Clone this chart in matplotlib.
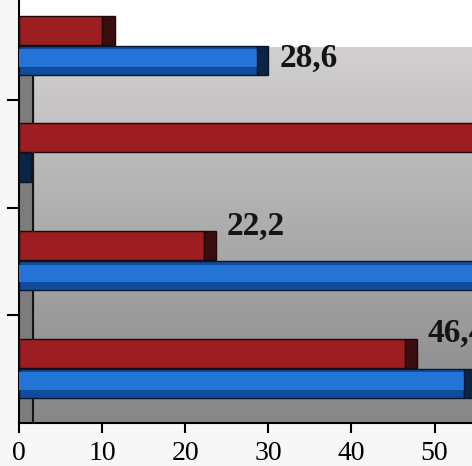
import matplotlib.pyplot as plt
import numpy as np
from matplotlib.colors import LinearSegmentedColormap

# groups from bottom to top
groups = [0, 1, 2, 3]
red_vals = [46.4, 22.2, 60.0, 10.0]
blue_vals = [53.5, 60.0, 0.0, 28.6]
label_text = ["46,4", "22,2", "28,6"]
label_val = [46.4, 22.2, 28.6]
label_grp = [0, 1, 3]
label_series = ["red", "red", "blue"]
xticks = [0, 10, 20, 30, 40, 50]

red = "#9c1e20"
red_cap = "#3a0e10"
blue_dark = "#0f4c9e"
blue_light = "#2474d8"
blue_cap = "#0b2446"

fig = plt.figure(figsize=(4.72, 4.66), dpi=100)
ax = fig.add_axes([19/472, 43/466, 453/472, 423/466])
ax.set_xlim(0, 54.5)
ax.set_ylim(-0.5, 3.43)

# back wall with vertical gradient
grad = np.linspace(0, 1, 256).reshape(-1, 1)
wall = LinearSegmentedColormap.from_list("wall", ["#878787", "#ababab", "#d3d0d0"])
ax.imshow(grad, extent=(0, 60, -0.5, 2.99), origin="lower", cmap=wall, aspect="auto", zorder=0)
ax.add_patch(plt.Rectangle((0, -0.5), 1.7, 3.49, color="#7c7c7c", zorder=1))
ax.plot([1.7, 1.7], [-0.5, 2.99], color="#151515", lw=1.5, zorder=1)

h = 0.27
y = np.array(groups)
yr = y + 0.15
yb = y - 0.13

ax.barh(yr, red_vals, height=h, color=red, edgecolor="#1c0808", lw=1, zorder=3)
ax.barh(yr, 1.5, left=red_vals, height=h, color=red_cap, edgecolor="#1c0808", lw=1, zorder=3)

ax.barh(yb, blue_vals, height=h, color=blue_dark, edgecolor="#08152a", lw=1, zorder=3)
ax.barh(yb + 0.02, blue_vals, height=h * 0.6, color=blue_light, lw=0, zorder=4)
ax.barh(yb, 1.4, left=blue_vals, height=h, color=blue_cap, edgecolor="#08152a", lw=1, zorder=4)

for t, v, g, s in zip(label_text, label_val, label_grp, label_series):
    ly = g + 0.33 if s == "red" else g - 0.11
    ax.text(v + 2.8, ly, t, fontsize=24, fontweight="bold", family="Liberation Serif",
            color="#151515", va="center", ha="left", zorder=5)

ax.set_xticks(xticks)
ax.set_xticklabels([str(v) for v in xticks], fontsize=20, family="Liberation Serif")
ax.set_yticks([0.5, 1.5, 2.5])
ax.set_yticklabels([])
ax.tick_params(axis="x", length=7, width=1.5, pad=6, direction="out")
ax.tick_params(axis="y", length=9, width=1.5, direction="out")
for sp in ["top", "right"]:
    ax.spines[sp].set_visible(False)
ax.spines["left"].set_linewidth(1.5)
ax.spines["bottom"].set_linewidth(1.5)
ax.set_facecolor("white")
fig.patch.set_facecolor("#f7f7f7")

plt.savefig("out.png", dpi=100)
